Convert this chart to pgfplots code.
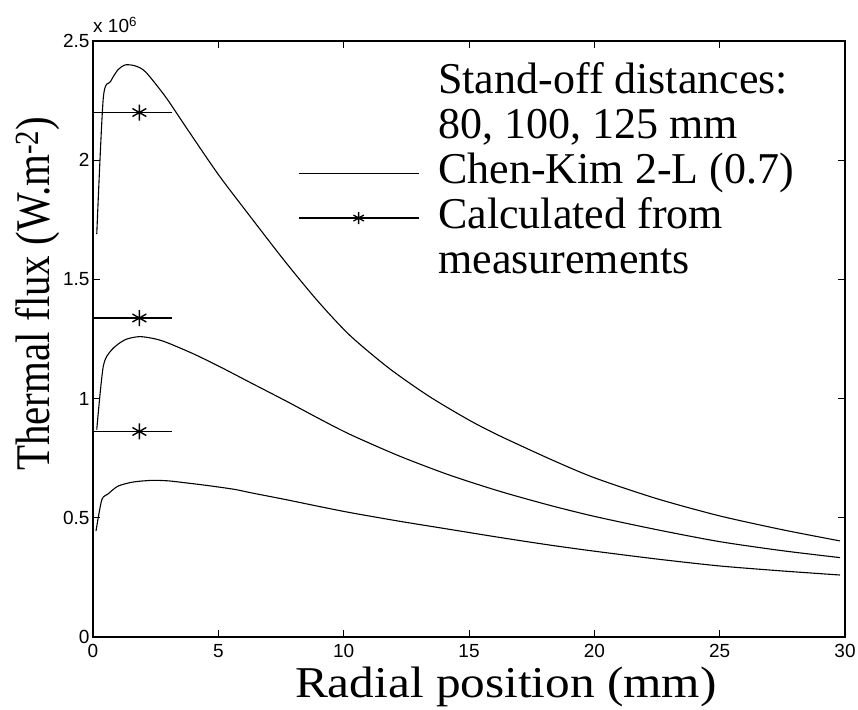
\documentclass[border=0pt]{standalone}
\usepackage{fontspec}
\setmainfont{Liberation Serif}
\newfontfamily\ticksans{Liberation Sans}
\usepackage{pgfplots}
\pgfplotsset{compat=1.18}
\begin{document}
\begin{tikzpicture}
\useasboundingbox (0,0) rectangle (858pt,709pt);
\begin{axis}[
  name=ax,
  at={(93pt,72pt)}, anchor=south west,
  scale only axis, width=752pt, height=596pt,
  xmin=0, xmax=30, ymin=0, ymax=2.5,
  xtick={0,5,10,15,20,25,30}, ytick={0,0.5,1,1.5,2,2.5},
  tick align=inside, major tick length=7pt,
  axis line style={line width=1.3pt},
  every tick/.style={black, line width=1pt},
  /pgf/number format/assume math mode=true,
  tick label style={font=\ticksans\fontsize{19}{19}\selectfont},
  xticklabel style={yshift=-4pt},
  xlabel={\scalebox{1.12}[1]{Radial position (mm)}},
  xlabel style={font=\fontsize{44}{44}\selectfont, at={(axis description cs:0.549,-0.102)}, anchor=base},
  ylabel={\scalebox{1}[1.18]{Thermal flux (W.m\textsuperscript{-2})}},
  ylabel style={font=\fontsize{41}{41}\selectfont, at={(axis description cs:-0.058,0.576)}, anchor=base},
  legend image code/.code={\draw[mark repeat=2,mark phase=2,#1] plot coordinates {(0pt,0pt) (60pt,0pt) (120pt,0pt)};},
  legend style={draw=none, fill=none, at={(axis description cs:0.2726,0.963)}, anchor=north west,
    inner sep=0pt, outer sep=0pt, row sep=5pt, column sep=19pt,
    font=\fontsize{44}{44}\selectfont,
    nodes={inner sep=0pt, text height=30pt, text depth=10pt}},
  legend cell align=left,
]
\addplot[black, line width=1.1pt, smooth, tension=0.45, forget plot] coordinates {
(0.15,1.69) (0.41,2.26) (0.7,2.33) (1.0,2.38) (1.3,2.40) (1.7,2.395) (2.1,2.37) (2.9,2.265) (3.7,2.14) (5.0,1.94) (6.3,1.76) (7.7,1.57) (9.0,1.405) (10.25,1.265) (11.8,1.128) (13.4,1.01) (15.0,0.91) (16.2,0.845) (18.2,0.748) (20.0,0.668) (22.5,0.58) (25.0,0.508) (27.5,0.45) (29.8,0.403)};
\addplot[black, line width=1.1pt, smooth, tension=0.45, forget plot] coordinates {
(0.15,0.87) (0.41,1.135) (0.75,1.205) (1.28,1.247) (1.87,1.26) (2.5,1.25) (3.0,1.233) (4.0,1.188) (5.0,1.137) (6.3,1.066) (7.7,0.99) (9.0,0.917) (10.25,0.85) (12.2,0.76) (14.2,0.68) (16.2,0.612) (18.2,0.553) (20.0,0.506) (22.5,0.45) (25.0,0.40) (27.5,0.362) (29.8,0.333)};
\addplot[black, line width=1.1pt, smooth, tension=0.45, forget plot] coordinates {
(0.12,0.445) (0.35,0.575) (0.6,0.60) (1.0,0.633) (1.6,0.65) (2.34,0.657) (3.0,0.655) (3.67,0.647) (4.6,0.635) (5.66,0.619) (6.3,0.605) (7.66,0.577) (9.0,0.548) (10.25,0.522) (12.2,0.486) (14.2,0.452) (16.2,0.418) (18.2,0.386) (20.0,0.36) (22.5,0.327) (25.0,0.298) (27.5,0.277) (29.8,0.26)};
\addplot[black, line width=1.4pt, mark=asterisk, mark size=8pt, mark indices={2}, mark options={line width=1.4pt}, forget plot] coordinates {(0,2.2) (1.85,2.2) (3.15,2.2)};
\addplot[black, line width=1.4pt, mark=asterisk, mark size=8pt, mark indices={2}, mark options={line width=1.4pt}, forget plot] coordinates {(0,1.338) (1.85,1.338) (3.15,1.338)};
\addplot[black, line width=1.4pt, mark=asterisk, mark size=8pt, mark indices={2}, mark options={line width=1.4pt}, forget plot] coordinates {(0,0.862) (1.85,0.862) (3.15,0.862)};
\addlegendimage{empty legend}\addlegendentry{Stand-off distances:}
\addlegendimage{empty legend}\addlegendentry{80, 100, 125 mm}
\addlegendimage{black, line width=1.1pt}\addlegendentry{Chen-Kim 2-L (0.7)}
\addlegendimage{black, line width=1.3pt, mark=asterisk, mark size=6pt}\addlegendentry{Calculated from}
\addlegendimage{empty legend}\addlegendentry{measurements}
\end{axis}
\node[anchor=base west, inner sep=0pt, font=\ticksans\fontsize{19}{19}\selectfont] at ([yshift=8pt]ax.north west) {x 10\textsuperscript{6}};
\end{tikzpicture}
\end{document}
